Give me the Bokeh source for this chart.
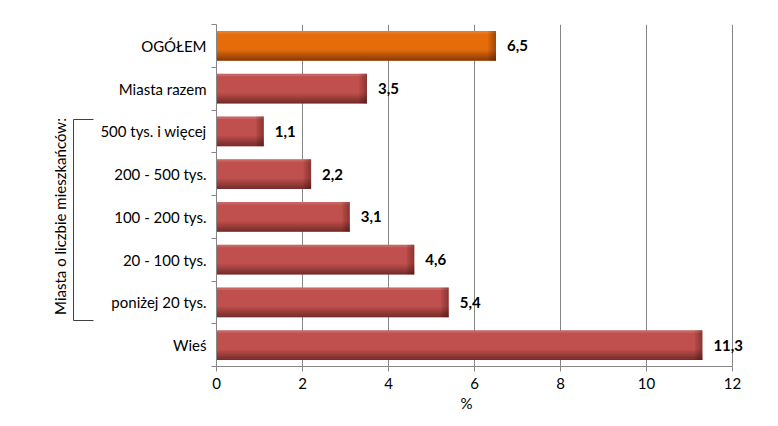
import numpy as np
from bokeh.plotting import figure
from bokeh.layouts import row
from bokeh.models import Range1d, FixedTicker, ColumnDataSource, Title
from bokeh.core.properties import value
from bokeh.embed import file_html
from bokeh.resources import INLINE

categories = ["OGÓŁEM", "Miasta razem", "500 tys. i więcej", "200 - 500 tys.",
              "100 - 200 tys.", "20 - 100 tys.", "poniżej 20 tys.", "Wieś"]
values = [6.5, 3.5, 1.1, 2.2, 3.1, 4.6, 5.4, 11.3]
x_ticks = [0, 2, 4, 6, 8, 10, 12]
group_label = "Miasta o liczbie mieszkańców:"
x_label = "%"

FONT = "Lato"
RED = "#C0504D"
ORANGE = "#E46C0A"
n = len(categories)
centers = [i + 0.5 for i in range(n)]
colors = [ORANGE] + [RED] * (n - 1)
labels = [f"{v:.1f}".replace(".", ",") for v in values]

# ---- left decoration figure (bracket + rotated group label) ----
# its frame is aligned with the main frame (screen y 24..366)
pa = figure(frame_width=95, frame_height=342, x_range=Range1d(0, 95), y_range=Range1d(366, 24),
            toolbar_location=None, output_backend="svg",
            x_axis_location=None, y_axis_location=None,
            min_border_left=0, min_border_right=0, min_border_top=24, min_border_bottom=60)
pa.grid.visible = False
pa.outline_line_color = None
pa.line([93, 73, 73, 93], [119, 119, 320, 320], line_color="#404040", line_width=1)
pa.text(x=[59], y=[216], text=[group_label], angle=np.pi / 2, text_align="center",
        text_baseline="middle", text_font=value(FONT), text_font_size="15px",
        text_color="#000000")

# ---- main chart ----
p = figure(frame_width=559, frame_height=342, x_range=Range1d(0, 13), y_range=Range1d(n, 0),
           toolbar_location=None, output_backend="svg",
           min_border_left=121, min_border_right=0, min_border_top=24, min_border_bottom=60)
p.outline_line_color = None

src = ColumnDataSource(dict(y=centers, v=values, c=colors, lab=labels))
h = 0.7
p.hbar(y="y", left=0, right="v", height=h, fill_color="c", line_color=None, source=src)

# top light sheen
p.hbar(y=[c - h / 2 + 0.03 for c in centers], left=0, right=values, height=0.06,
       fill_color="white", fill_alpha=0.12, line_color=None)
# bottom dark gradient
nstrips = 7
th = 0.25 / nstrips
for k in range(nstrips):
    yy = [c + h / 2 - 0.25 + th * (k + 0.5) for c in centers]
    p.hbar(y=yy, left=0, right=values, height=th, fill_color="#2a0808",
           fill_alpha=0.05 + 0.075 * k, line_color=None)
# right edge gradient
rstrips = 5
dw = 0.035
for k in range(rstrips):
    lefts = [v - dw * (k + 1) for v in values]
    rights = [v - dw * k for v in values]
    p.hbar(y=centers, left=lefts, right=rights, height=h, fill_color="#2a0808",
           fill_alpha=0.35 - 0.065 * k, line_color=None)

p.text(x="v", y="y", text="lab", source=src, x_offset=11, text_baseline="middle",
       text_font=value(FONT), text_font_size="15px", text_font_style="bold",
       text_color="#000000")

# x-axis title, centred under the 0..12 axis
p.add_layout(Title(text=x_label, align="left", offset=244, text_font=FONT,
                   text_font_size="15px", text_font_style="normal", text_color="#000000",
                   standoff=0), "below")

# axes
p.xaxis.bounds = (0, 12)
p.xaxis.ticker = FixedTicker(ticks=x_ticks)
p.xaxis.major_label_text_font = FONT
p.xaxis.major_label_text_font_size = "15px"
p.xaxis.major_label_text_color = "#000000"
p.xaxis.major_tick_in = 0
p.xaxis.major_tick_out = 5
p.xaxis.minor_tick_line_color = None
p.xaxis.axis_line_color = "#868686"
p.xaxis.major_tick_line_color = "#868686"
p.xaxis.major_label_standoff = 6

p.yaxis.ticker = FixedTicker(ticks=centers, minor_ticks=list(range(n + 1)))
p.yaxis.major_label_overrides = {c: cat for c, cat in zip(centers, categories)}
p.yaxis.major_tick_line_color = None
p.yaxis.major_tick_in = 0
p.yaxis.major_tick_out = 0
p.yaxis.minor_tick_in = 0
p.yaxis.minor_tick_out = 5
p.yaxis.minor_tick_line_color = "#868686"
p.yaxis.axis_line_color = "#868686"
p.yaxis.major_label_text_font = FONT
p.yaxis.major_label_text_font_size = "15px"
p.yaxis.major_label_text_color = "#000000"
p.yaxis.major_label_standoff = 5

p.ygrid.visible = False
p.xgrid.ticker = FixedTicker(ticks=x_ticks[1:])
p.xgrid.grid_line_color = "#868686"
p.xgrid.grid_line_width = 1

layout = row(pa, p, spacing=0)
open("out.html", "w").write(file_html(layout, INLINE))
